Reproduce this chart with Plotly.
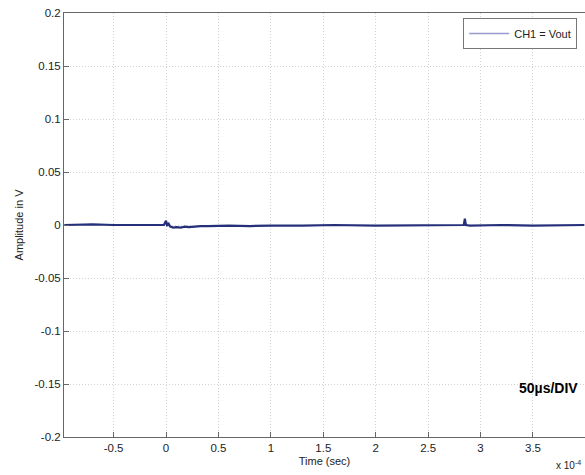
import plotly.graph_objects as go

# Time in units of 1e-4 s
time_e4 = [-0.97, -0.7, -0.5, -0.2, -0.02, 0.0, 0.01, 0.02, 0.04, 0.07, 0.1, 0.14, 0.18, 0.22, 0.27, 0.33,
           0.4, 0.6, 0.8, 1.0, 1.3, 1.6, 2.0, 2.4, 2.7, 2.84, 2.85, 2.86, 2.9, 3.2, 3.5, 3.8, 3.99]
vout = [0.0, 0.0005, 0.0, 0.0, 0.0, 0.004, -0.001, 0.002, -0.0015, -0.0025, -0.002, -0.0025, -0.0015, -0.002,
        -0.0015, -0.001, -0.001, -0.0005, -0.001, -0.0005, -0.0005, 0.0, -0.0005, 0.0, 0.0, 0.0, 0.006, 0.0,
        -0.0005, 0.0, -0.0005, 0.0, 0.0]

xticks = [-0.5, 0, 0.5, 1, 1.5, 2, 2.5, 3, 3.5]
yticks = [-0.2, -0.15, -0.1, -0.05, 0, 0.05, 0.1, 0.15, 0.2]
ytick_text = ["-0.2", "-0.15", "-0.1", "-0.05", "0", "0.05", "0.1", "0.15", "0.2"]

font = "Liberation Sans, Arial, sans-serif"

fig = go.Figure()
fig.add_trace(go.Scatter(x=time_e4, y=vout, mode="lines", name="CH1 = Vout",
                         line=dict(color="#26307a", width=2.2), showlegend=False))
# legend entry with light line sample
fig.add_trace(go.Scatter(x=[None], y=[None], mode="lines", name="CH1 = Vout",
                         line=dict(color="#9a9ad0", width=1.5)))

axis_common = dict(showline=True, linecolor="#666", linewidth=1, mirror=True,
                   ticks="inside", ticklen=5, tickcolor="#666",
                   showgrid=True, gridcolor="#d2d2d2", griddash="1px,2px", gridwidth=1,
                   zeroline=False, tickfont=dict(family=font, size=11.5, color="#222"))

fig.update_xaxes(range=[-0.973, 3.996], tickvals=xticks, ticktext=[str(t) for t in xticks],
                 title=dict(text="Time (sec)", font=dict(family=font, size=11, color="#222"), standoff=4),
                 **axis_common)
fig.update_yaxes(range=[-0.2, 0.2], tickvals=yticks, ticktext=ytick_text,
                 title=dict(text="Amplitude in V", font=dict(family=font, size=11, color="#222"), standoff=8),
                 **axis_common)

fig.update_layout(
    width=585, height=475,
    margin=dict(l=64, r=0, t=13, b=38),
    paper_bgcolor="white", plot_bgcolor="white",
    showlegend=True,
    legend=dict(x=0.985, y=0.988, xanchor="right", yanchor="top",
                bordercolor="#777", borderwidth=1, bgcolor="white",
                font=dict(family=font, size=11, color="#222"),
                itemwidth=40, tracegroupgap=0),
    annotations=[
        dict(text="50µs/DIV", x=0.99, y=0.116, xref="paper", yref="paper",
             xanchor="right", yanchor="middle", showarrow=False,
             font=dict(family=font, size=14, color="black", weight="bold")),
        dict(text="x 10<sup>-4</sup>", x=0.996, y=-0.048, xref="paper", yref="paper",
             xanchor="right", yanchor="top", showarrow=False,
             font=dict(family=font, size=10, color="#222")),
    ],
)

fig.write_html("out.html", config={"displayModeBar": False},
               post_script="document.body.style.margin='0';document.body.style.overflow='hidden';")
